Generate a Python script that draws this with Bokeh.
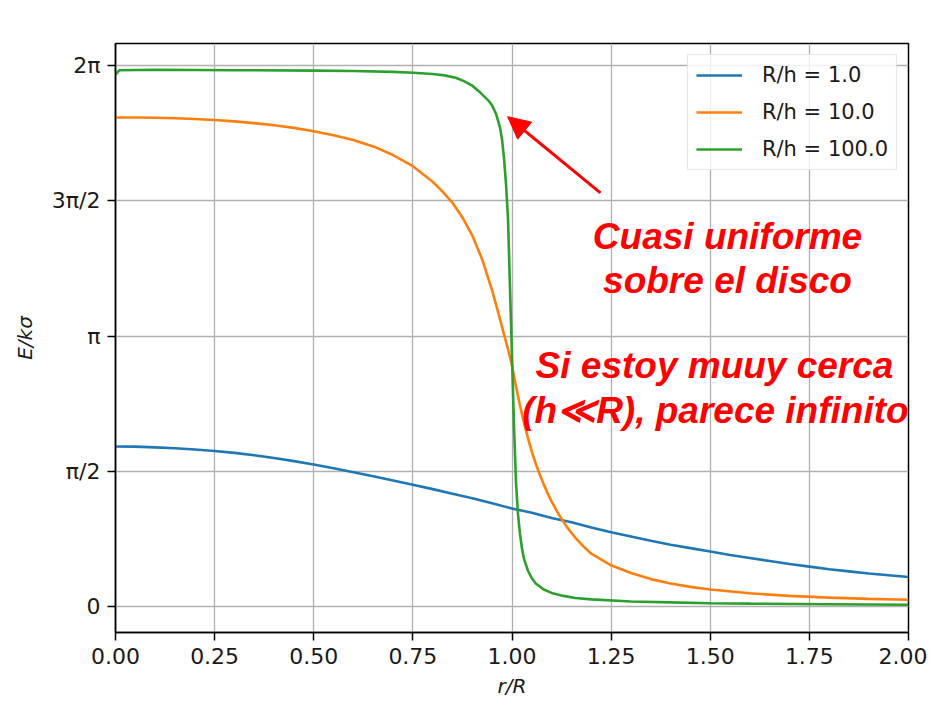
import math
from bokeh.plotting import figure
from bokeh.models import Range1d, FixedTicker, Legend, LegendItem, Arrow, NormalHead, Label
from bokeh.embed import file_html
from bokeh.resources import INLINE

# ---- data ----
r_blue = [0.0, 0.05, 0.1, 0.15, 0.2, 0.25, 0.3, 0.35, 0.4, 0.45, 0.5, 0.55, 0.6, 0.65, 0.7,
          0.75, 0.8, 0.85, 0.9, 0.95, 1.0, 1.05, 1.1, 1.15, 1.2, 1.25, 1.3, 1.35, 1.4, 1.45,
          1.5, 1.55, 1.6, 1.65, 1.7, 1.75, 1.8, 1.85, 1.9, 1.95, 2.0]
e_blue = [1.860, 1.858, 1.850, 1.840, 1.826, 1.808, 1.786, 1.758, 1.726, 1.690, 1.650, 1.607,
          1.562, 1.515, 1.466, 1.416, 1.365, 1.312, 1.260, 1.200, 1.140, 1.090, 1.030, 0.980,
          0.920, 0.865, 0.815, 0.765, 0.720, 0.680, 0.640, 0.600, 0.565, 0.530, 0.495, 0.465,
          0.435, 0.410, 0.385, 0.365, 0.345]

r_orange = [0.0, 0.05, 0.1, 0.15, 0.2, 0.25, 0.3, 0.35, 0.4, 0.45, 0.5, 0.55, 0.6, 0.65, 0.7,
            0.75, 0.8, 0.825, 0.85, 0.875, 0.9, 0.925, 0.95, 0.965, 0.98, 0.99, 1.0, 1.01,
            1.02, 1.03, 1.04, 1.05, 1.06, 1.07, 1.08, 1.09, 1.1, 1.12, 1.14, 1.16, 1.18, 1.2,
            1.25, 1.3, 1.35, 1.4, 1.45, 1.5, 1.6, 1.7, 1.8, 1.9, 2.0]
e_orange = [5.680, 5.680, 5.677, 5.672, 5.664, 5.652, 5.636, 5.615, 5.590, 5.560, 5.520,
            5.475, 5.420, 5.345, 5.245, 5.115, 4.935, 4.820, 4.690, 4.520, 4.310, 4.030,
            3.670, 3.420, 3.160, 2.990, 2.800, 2.560, 2.340, 2.140, 1.960, 1.800, 1.660,
            1.535, 1.420, 1.315, 1.220, 1.055, 0.915, 0.800, 0.700, 0.615, 0.480, 0.390,
            0.320, 0.270, 0.230, 0.200, 0.155, 0.125, 0.105, 0.090, 0.080]

r_green = [0.0, 0.01, 0.1, 0.3, 0.5, 0.6, 0.7, 0.75, 0.8, 0.83, 0.86, 0.88, 0.9, 0.92, 0.94,
           0.95, 0.96, 0.97, 0.975, 0.98, 0.985, 0.99, 0.995, 1.0, 1.005, 1.01, 1.015, 1.02,
           1.025, 1.03, 1.04, 1.05, 1.06, 1.08, 1.1, 1.13, 1.16, 1.2, 1.3, 1.4, 1.5, 1.6,
           1.8, 2.0]
e_green = [6.180, 6.230, 6.235, 6.230, 6.225, 6.220, 6.210, 6.200, 6.185, 6.170, 6.140,
           6.100, 6.050, 5.970, 5.880, 5.820, 5.720, 5.560, 5.420, 5.200, 4.900, 4.500,
           3.700, 2.900, 2.100, 1.450, 1.080, 0.850, 0.680, 0.560, 0.420, 0.330, 0.270,
           0.200, 0.160, 0.125, 0.100, 0.085, 0.060, 0.050, 0.040, 0.035, 0.028, 0.022]

series_labels = ["R/h = 1.0", "R/h = 10.0", "R/h = 100.0"]
series_colors = ["#1f77b4", "#ff7f0e", "#2ca02c"]

x_ticks = [0.0, 0.25, 0.5, 0.75, 1.0, 1.25, 1.5, 1.75, 2.0]
x_tick_labels = ["0.00", "0.25", "0.50", "0.75", "1.00", "1.25", "1.50", "1.75", "2.00"]
y_ticks = [0.0, math.pi / 2, math.pi, 3 * math.pi / 2, 2 * math.pi]
y_tick_labels = ["0", "π/2", "π", "3π/2", "2π"]

note1 = ["Cuasi uniforme", "sobre el disco"]
note2 = ["Si estoy muuy cerca", "(h≪R), parece infinito"]

# ---- figure ----
p = figure(width=927, height=705, output_backend="svg", toolbar_location=None,
           x_range=Range1d(0, 2), y_range=Range1d(-0.30, 6.54),
           min_border_left=115, min_border_right=19, min_border_top=43, min_border_bottom=73)
p.background_fill_color = "white"
p.border_fill_color = "white"
p.outline_line_color = "black"
p.outline_line_width = 1.5

FONT = "DejaVu Sans"
p.xaxis.ticker = FixedTicker(ticks=x_ticks)
p.xaxis.major_label_overrides = {t: l for t, l in zip(x_ticks, x_tick_labels)}
p.yaxis.ticker = FixedTicker(ticks=y_ticks)
p.yaxis.major_label_overrides = {t: l for t, l in zip(y_ticks, y_tick_labels)}

for ax in (p.xaxis, p.yaxis):
    ax.axis_line_color = "black"
    ax.axis_line_width = 1.5
    ax.major_tick_line_color = "black"
    ax.major_tick_line_width = 1.5
    ax.major_tick_out = 8
    ax.major_tick_in = 0
    ax.minor_tick_line_color = None
    ax.major_label_text_font = FONT
    ax.major_label_text_font_size = "22px"
    ax.major_label_text_color = "#1a1a1a"
    ax.axis_label_text_font = FONT
    ax.axis_label_text_font_size = "20px"
    ax.axis_label_text_font_style = "italic"
    ax.axis_label_text_color = "#1a1a1a"

p.xaxis.axis_label = "r/R"
p.yaxis.axis_label = "E/kσ"
p.xaxis.major_label_standoff = 7
p.xaxis.axis_label_standoff = 7
p.yaxis.major_label_standoff = 7
p.yaxis.axis_label_standoff = 12

p.grid.grid_line_color = "#b0b0b0"
p.grid.grid_line_width = 1.3

renderers = []
for xs, ys, c in zip([r_blue, r_orange, r_green], [e_blue, e_orange, e_green], series_colors):
    renderers.append(p.line(xs, ys, line_color=c, line_width=2.6))

legend = Legend(items=[LegendItem(label=l, renderers=[r]) for l, r in zip(series_labels, renderers)],
                location="top_right")
legend.margin = 11
legend.padding = 8
legend.spacing = 13
legend.glyph_width = 46
legend.glyph_height = 24
legend.label_height = 24
legend.label_standoff = 20
legend.label_text_font = FONT
legend.label_text_font_size = "21px"
legend.label_text_color = "#1a1a1a"
legend.border_line_color = "#cccccc"
legend.border_line_width = 1.2
legend.background_fill_alpha = 0.8
p.add_layout(legend)

# ---- annotations ----
p.add_layout(Arrow(end=NormalHead(size=22, fill_color="red", line_color="red"),
                   x_start=1.223, y_start=4.806, x_end=0.989, y_end=5.69,
                   line_color="red", line_width=3))

for txt, xx, yy in [(note1[0], 1.5435, 4.294), (note1[1], 1.5435, 3.793),
                    (note2[0], 1.5107, 2.804), (note2[1], 1.513, 2.281)]:
    p.add_layout(Label(x=xx, y=yy, text=txt, text_align="center", text_baseline="alphabetic",
                       text_font="Liberation Sans", text_font_style="bold italic",
                       text_font_size="37px", text_color="#ff0000"))

open("out.html", "w").write(file_html(p, INLINE))
